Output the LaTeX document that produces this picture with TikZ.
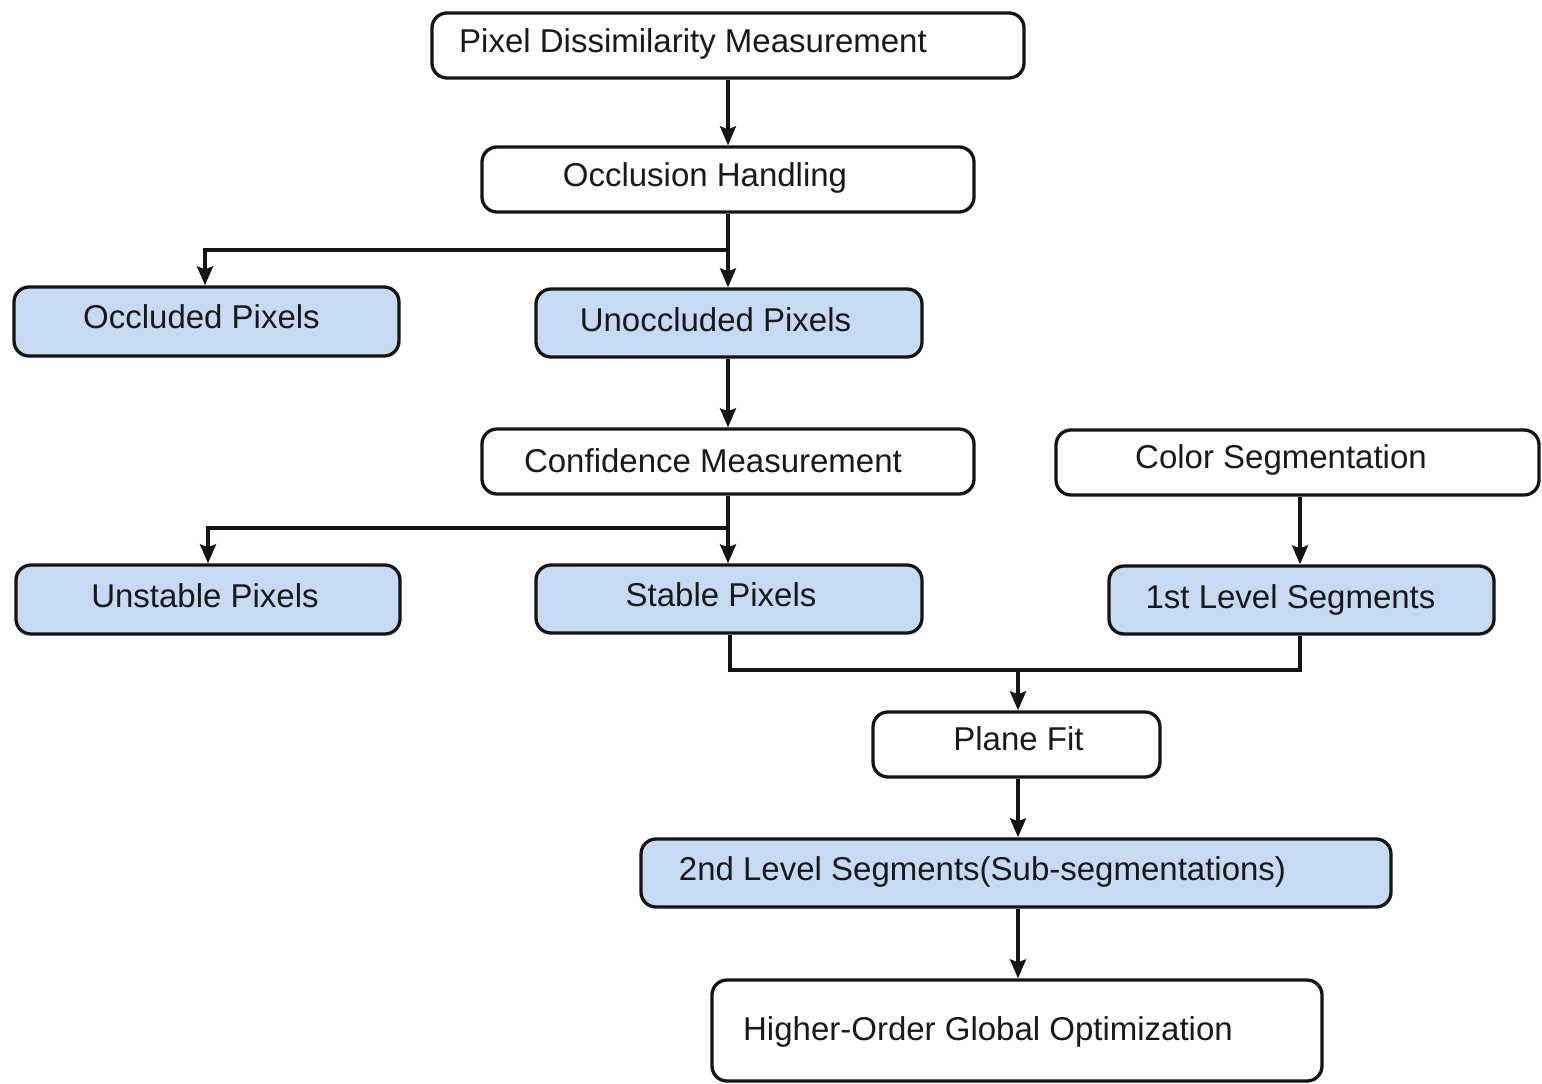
\documentclass[tikz,border=0pt]{standalone}
\usepackage{fontspec}
\setmainfont{Liberation Sans}
\usetikzlibrary{arrows.meta}
\definecolor{boxblue}{HTML}{C6DBF3}
\tikzset{
  box/.style={draw=black!92, line width=3.3pt, rounded corners=15pt, inner sep=0pt},
  plainbox/.style={box, fill=white},
  bluebox/.style={box, fill=boxblue},
  lbl/.style={font=\fontsize{33}{37}\selectfont, text=black!90, anchor=base, inner sep=0pt},
  link/.style={line width=3.3pt, draw=black!92},
  arr/.style={link, -{Stealth[length=19pt,width=16pt,inset=3pt]}}
}
\begin{document}
\begin{tikzpicture}[x=1pt, y=-1pt]
\useasboundingbox (0,0) rectangle (1542,1084);
\fill[white] (0,0) rectangle (1542,1084);
\clip (0,0) rectangle (1542,1084);

% boxes: centre, width, height
\node[plainbox, minimum width=592pt, minimum height=65pt] (pdm) at (728,45.5) {};
\node[plainbox, minimum width=492pt, minimum height=65pt] (occ) at (728,179.5) {};
\node[bluebox,  minimum width=385pt, minimum height=69pt] (occp) at (206.5,321.5) {};
\node[bluebox,  minimum width=386pt, minimum height=68pt] (unocc) at (729,323) {};
\node[plainbox, minimum width=492pt, minimum height=65pt] (conf) at (728,461.5) {};
\node[plainbox, minimum width=483pt, minimum height=65pt] (cseg) at (1297.5,462.5) {};
\node[bluebox,  minimum width=384pt, minimum height=69pt] (unst) at (208,599.5) {};
\node[bluebox,  minimum width=386pt, minimum height=68pt] (stab) at (729,599) {};
\node[bluebox,  minimum width=385pt, minimum height=68pt] (first) at (1301.5,600) {};
\node[plainbox, minimum width=287pt, minimum height=65pt] (plane) at (1016.5,744.5) {};
\node[bluebox,  minimum width=750pt, minimum height=68pt] (second) at (1016,873) {};
\node[plainbox, minimum width=610pt, minimum height=101pt] (hogo) at (1017,1030.5) {};

% labels
\node[lbl] (tpdm) at (693,52) {Pixel Dissimilarity Measurement};
\node[lbl] (tocc) at (705,186) {Occlusion Handling};
\node[lbl] (toccp) at (201.5,328) {Occluded Pixels};
\node[lbl] (tunocc) at (715.5,331) {Unoccluded Pixels};
\node[lbl] (tconf) at (713,472) {Confidence Measurement};
\node[lbl] (tcseg) at (1281,468) {Color Segmentation};
\node[lbl] (tunst) at (205,607) {Unstable Pixels};
\node[lbl] (tstab) at (721,606) {Stable Pixels};
\node[lbl] (tfirst) at (1290.5,608) {1st Level Segments};
\node[lbl] (tplane) at (1018.5,750) {Plane Fit};
\node[lbl] (tsecond) at (982.5,880) {2nd Level Segments(Sub-segmentations)};
\node[lbl] (thogo) at (988,1040) {Higher-Order Global Optimization};

% junction points
\coordinate (j1) at (728,250);
\coordinate (j2) at (728,528);
\coordinate (j3) at (730,670);
\coordinate (j4) at (1300,670);
\coordinate (j5) at (1018,670);

% connectors
\draw[arr] (pdm.south) -- (occ.north);
\draw[link] (occ.south) -- (j1);
\draw[arr] (j1) -| (occp.north -| 205,0);
\draw[arr] (j1) -- (unocc.north -| j1);
\draw[arr] (unocc.south -| 728,0) -- (conf.north);
\draw[link] (conf.south) -- (j2);
\draw[arr] (j2) -| (unst.north -| 208,0);
\draw[arr] (j2) -- (stab.north -| j2);
\draw[arr] (cseg.south -| 1300,0) -- (first.north -| 1300,0);
\draw[link] (stab.south -| j3) -- (j3) -- (j4) -- (first.south -| j4);
\draw[arr] (j5) -- (plane.north -| j5);
\draw[arr] (plane.south -| j5) -- (second.north -| j5);
\draw[arr] (second.south -| j5) -- (hogo.north -| j5);
\end{tikzpicture}
\end{document}
